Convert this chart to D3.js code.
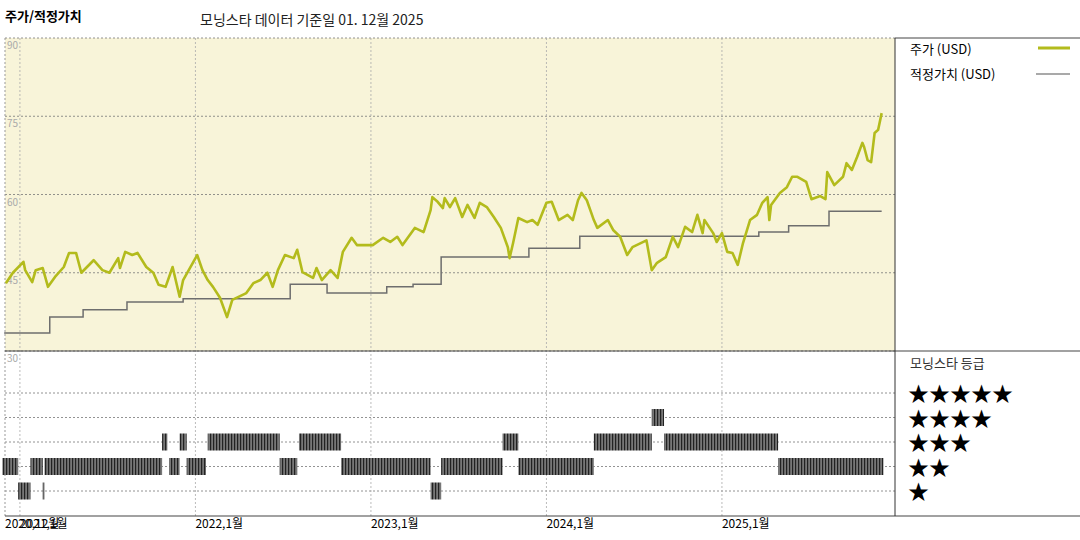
<!DOCTYPE html>
<html>
<head>
<meta charset="utf-8">
<script src="https://cdn.jsdelivr.net/npm/d3@7"></script>
<style>
  body { margin: 0; background: #fff; }
  text { font-family: "Noto Sans CJK KR", "DejaVu Sans", sans-serif; }
</style>
</head>
<body>
<svg id="chart" width="1080" height="540"></svg>
<script>
// price (USD), time as decimal year
const priceT = [2020.92,2020.96,2021.02,2021.03,2021.07,2021.09,2021.13,2021.16,2021.20,2021.25,2021.28,2021.32,2021.35,2021.42,2021.47,2021.51,2021.56,2021.57,2021.60,2021.64,2021.67,2021.72,2021.76,2021.79,2021.83,2021.87,2021.91,2021.93,2022.01,2022.04,2022.07,2022.10,2022.14,2022.18,2022.21,2022.29,2022.33,2022.37,2022.41,2022.44,2022.47,2022.51,2022.56,2022.58,2022.61,2022.67,2022.69,2022.72,2022.77,2022.81,2022.84,2022.89,2022.92,2023.01,2023.07,2023.11,2023.15,2023.18,2023.25,2023.30,2023.34,2023.35,2023.38,2023.41,2023.42,2023.45,2023.48,2023.52,2023.55,2023.59,2023.62,2023.66,2023.70,2023.74,2023.78,2023.79,2023.81,2023.84,2023.89,2023.92,2023.95,2024.00,2024.03,2024.07,2024.12,2024.15,2024.18,2024.20,2024.23,2024.25,2024.27,2024.29,2024.35,2024.38,2024.42,2024.46,2024.49,2024.57,2024.60,2024.63,2024.68,2024.72,2024.75,2024.79,2024.83,2024.86,2024.89,2024.90,2024.95,2024.97,2025.00,2025.03,2025.06,2025.09,2025.12,2025.16,2025.20,2025.23,2025.26,2025.27,2025.28,2025.33,2025.37,2025.40,2025.43,2025.48,2025.51,2025.56,2025.59,2025.60,2025.64,2025.69,2025.71,2025.74,2025.77,2025.80,2025.81,2025.83,2025.85,2025.87,2025.89,2025.91];
const priceV = [43.0,45.0,47.1,45.5,43.2,45.5,45.9,42.3,44.2,46.1,48.8,48.8,45.0,47.4,45.5,45.0,47.8,45.9,49.0,48.4,48.8,46.1,45.0,42.7,42.3,46.1,40.4,43.6,48.4,45.5,43.6,42.3,40.2,36.5,39.8,41.1,43.0,43.6,45.0,42.3,45.5,48.4,47.8,49.4,45.1,44.0,45.9,43.6,45.5,44.0,49.0,51.7,50.3,50.3,51.7,50.9,51.9,50.3,53.6,52.8,57.0,59.5,58.6,57.4,59.3,57.6,59.3,55.7,58.0,55.5,58.4,57.6,55.7,53.6,49.9,47.8,50.7,55.5,54.7,55.1,54.2,58.4,58.6,55.1,56.1,55.1,58.9,60.3,58.9,57.0,55.1,53.6,55.1,53.2,51.9,48.4,49.9,51.2,45.5,46.9,48.0,51.9,49.9,53.8,52.8,56.1,52.6,55.1,52.6,50.9,52.6,49.0,48.8,46.5,50.7,55.1,56.1,58.4,59.5,55.1,58.0,60.3,61.4,63.4,63.4,62.4,59.1,59.7,59.1,64.3,61.8,63.4,66.0,64.7,67.2,69.9,69.1,66.6,66.2,71.8,72.4,75.6];

// fair value (USD), step changes
const fairT = [2020.91,2021.17,2021.36,2021.61,2021.93,2022.54,2022.75,2023.09,2023.24,2023.40,2023.90,2024.19,2025.21,2025.38,2025.61,2025.91];
const fairV = [33.45,36.5,37.9,39.4,40.0,42.8,41.1,42.3,42.8,48.0,49.7,52.0,52.8,54.0,56.8,56.8];

// Morningstar rating periods
const ratingStart = [2020.90,2020.99,2021.06,2021.13,2021.14,2021.81,2021.85,2021.91,2021.95,2022.07,2022.48,2022.59,2022.83,2023.34,2023.40,2023.75,2023.84,2024.27,2024.60,2024.67,2025.32];
const ratingEnd   = [2020.99,2021.06,2021.13,2021.14,2021.81,2021.84,2021.91,2021.95,2022.06,2022.48,2022.58,2022.83,2023.34,2023.40,2023.75,2023.84,2024.27,2024.60,2024.67,2025.32,2025.92];
const ratingStars = [2,1,2,1,2,3,2,3,2,3,2,3,2,1,2,3,2,3,4,3,2];

const yTicks = [90, 75, 60, 45, 30];
const xTicks = [2021, 2022, 2023, 2024, 2025];
const xTickLabels = ["2021,1월", "2022,1월", "2023,1월", "2024,1월", "2025,1월"];

const svg = d3.select("#chart");
const pLeft = 5, pRight = 895, pTop = 38, pMid = 351, pBottom = 516;

const x = d3.scaleLinear().domain([2020.915, 2025.986]).range([pLeft, pRight]);
const y = d3.scaleLinear().domain([30, 90]).range([pMid, pTop]);
const yr = d3.scaleLinear().domain([1, 5]).range([491, 393]);

// titles
svg.append("text").attr("x", 5).attr("y", 21).attr("font-size", 13).attr("font-weight", "bold").text("주가/적정가치");
svg.append("text").attr("x", 200).attr("y", 25).attr("font-size", 14).attr("fill", "#222").text("모닝스타 데이터 기준일 01. 12월 2025");

// top panel background
svg.append("rect").attr("x", pLeft).attr("y", pTop).attr("width", pRight - pLeft).attr("height", pMid - pTop).attr("fill", "#f8f4d9");

// horizontal grid (price)
svg.selectAll(".hgrid").data(yTicks).enter().append("line")
    .attr("x1", pLeft).attr("x2", pRight)
    .attr("y1", d => y(d)).attr("y2", d => y(d))
    .attr("stroke", "#777").attr("stroke-dasharray", "2,2").attr("stroke-width", 0.8);
svg.selectAll(".ylab").data(yTicks).enter().append("text")
    .attr("x", 7).attr("y", d => y(d) + 11)
    .attr("font-size", 10).attr("fill", "#aaa").text(d => d);

// rating grid
svg.selectAll(".rgrid").data([1, 2, 3, 4, 5]).enter().append("line")
    .attr("x1", pLeft).attr("x2", pRight)
    .attr("y1", d => yr(d)).attr("y2", d => yr(d))
    .attr("stroke", "#777").attr("stroke-dasharray", "2,2").attr("stroke-width", 0.8);

// vertical grid
svg.selectAll(".vgrid").data(xTicks).enter().append("line")
    .attr("x1", d => x(d)).attr("x2", d => x(d))
    .attr("y1", pTop).attr("y2", pBottom)
    .attr("stroke", "#aaa").attr("stroke-dasharray", "2,2").attr("stroke-width", 0.8);
svg.append("line").attr("x1", pLeft).attr("x2", pLeft).attr("y1", pTop).attr("y2", pBottom)
    .attr("stroke", "#999").attr("stroke-dasharray", "2,2");

// rating bars with striped pattern
const pat = svg.append("defs").append("pattern").attr("id", "stripes")
    .attr("patternUnits", "userSpaceOnUse").attr("width", 3).attr("height", 10);
pat.append("rect").attr("width", 3).attr("height", 10).attr("fill", "#777");
pat.append("rect").attr("width", 1.2).attr("height", 10).attr("fill", "#222");

svg.selectAll(".rbar").data(ratingStars).enter().append("rect")
    .attr("x", (d, i) => x(ratingStart[i]))
    .attr("width", (d, i) => Math.max(1.5, x(ratingEnd[i]) - x(ratingStart[i])))
    .attr("y", d => yr(d) - 8.5).attr("height", 17)
    .attr("fill", "url(#stripes)");

// fair value line
const fair = fairT.map((t, i) => [t, fairV[i]]);
svg.append("path").datum(fair)
    .attr("d", d3.line().x(d => x(d[0])).y(d => y(d[1])).curve(d3.curveStepAfter))
    .attr("fill", "none").attr("stroke", "#6e6e6e").attr("stroke-width", 1.5);

// price line
const price = priceT.map((t, i) => [t, priceV[i]]);
svg.append("path").datum(price)
    .attr("d", d3.line().x(d => x(d[0])).y(d => y(d[1])))
    .attr("fill", "none").attr("stroke", "#b3bb1c").attr("stroke-width", 2.6)
    .attr("stroke-linejoin", "round");

// frame lines
svg.append("line").attr("x1", pLeft).attr("x2", 1080).attr("y1", pMid).attr("y2", pMid).attr("stroke", "#444").attr("stroke-width", 1.2);
svg.append("line").attr("x1", pRight).attr("x2", 1080).attr("y1", pTop).attr("y2", pTop).attr("stroke", "#444");
svg.append("line").attr("x1", pLeft).attr("x2", 1080).attr("y1", pBottom).attr("y2", pBottom).attr("stroke", "#444").attr("stroke-width", 1.2);
svg.append("line").attr("x1", pRight).attr("x2", pRight).attr("y1", pTop).attr("y2", pBottom).attr("stroke", "#333");

// x labels
svg.append("text").attr("x", 5).attr("y", 528).attr("font-size", 12).text("2020,12월");
svg.selectAll(".xlab").data(xTicks).enter().append("text")
    .attr("x", d => x(d)).attr("y", 528).attr("font-size", 12)
    .text((d, i) => xTickLabels[i]);

// legend
svg.append("text").attr("x", 910).attr("y", 54).attr("font-size", 13).text("주가 (USD)");
svg.append("line").attr("x1", 1038).attr("x2", 1070).attr("y1", 48).attr("y2", 48).attr("stroke", "#b3bb1c").attr("stroke-width", 3);
svg.append("text").attr("x", 910).attr("y", 79).attr("font-size", 13).text("적정가치 (USD)");
svg.append("line").attr("x1", 1036).attr("x2", 1070).attr("y1", 74).attr("y2", 74).attr("stroke", "#555").attr("stroke-width", 1.2);

svg.append("text").attr("x", 910).attr("y", 368).attr("font-size", 13).attr("fill", "#333").text("모닝스타 등급");
svg.selectAll(".stars").data([5, 4, 3, 2, 1]).enter().append("text")
    .attr("x", 908).attr("y", d => yr(d) + 8).attr("font-size", 21)
    .attr("font-family", "DejaVu Sans")
    .text(d => "★".repeat(d));
</script>
</body>
</html>
